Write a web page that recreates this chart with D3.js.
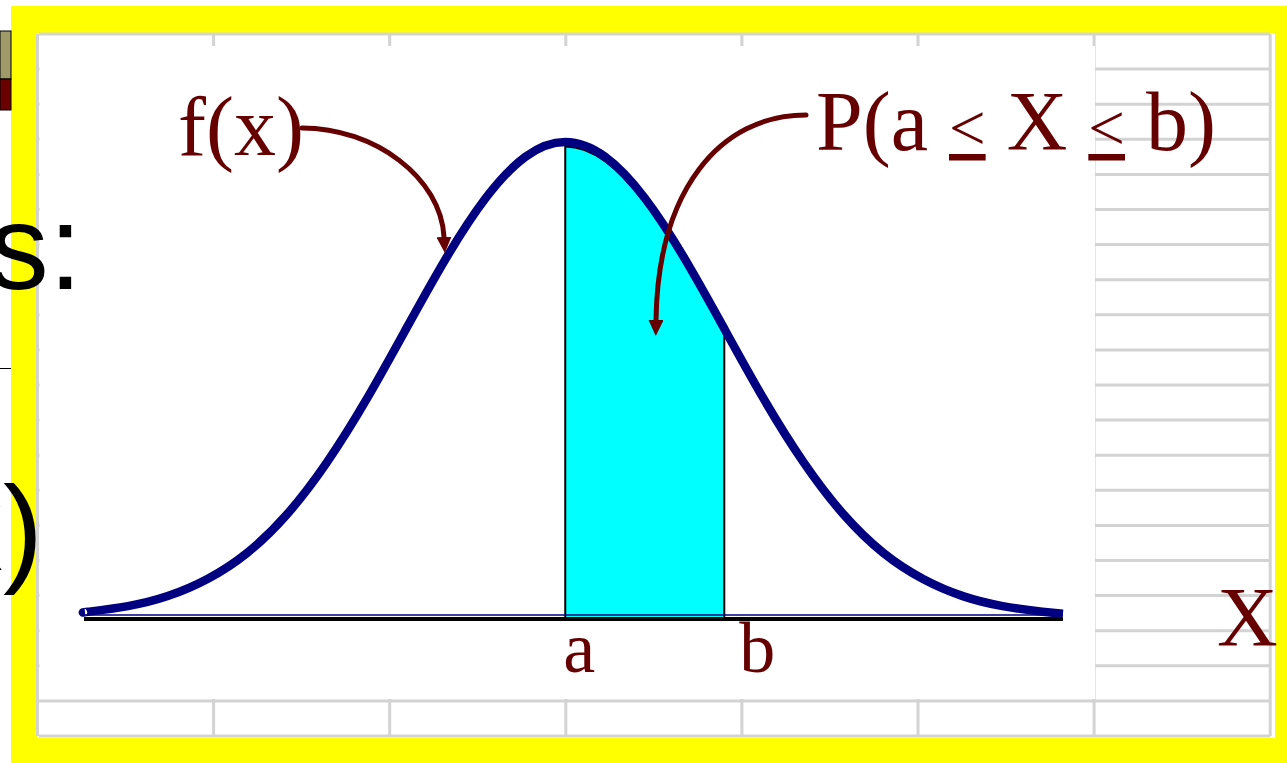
<!DOCTYPE html>
<html>
<head>
<meta charset="utf-8">
<script src="https://cdn.jsdelivr.net/npm/d3@7"></script>
<style>
  html, body { margin: 0; padding: 0; background: #fff; }
  svg { display: block; }
</style>
</head>
<body>
<div id="chart"></div>
<script>
// bell curve: z position and height relative to the peak
const zValues = [-3.02, -3, -2.75, -2.5, -2.25, -2, -1.75, -1.5, -1.25, -1, -0.75, -0.5, -0.25, 0,
  0.25, 0.5, 0.75, 1, 1.25, 1.5, 1.75, 2, 2.25, 2.5, 2.75, 3, 3.13]
const heights = [0.010, 0.011, 0.023, 0.044, 0.080, 0.135, 0.216, 0.325, 0.458, 0.607, 0.755, 0.882, 0.969, 1,
  0.969, 0.882, 0.755, 0.607, 0.458, 0.325, 0.216, 0.135, 0.080, 0.044, 0.023, 0.011, 0.007]
const boundNames = ['a', 'b']
const boundValues = [0, 1]
const curveLabel = 'f(x)'
const axisLabel = 'X'
const probParts = ['P(a ', '<', ' X ', '<', ' b)']

const width = 1287
const height = 763
const red = '#660000'
const navy = '#000080'
const gridColor = '#d3d3d3'

const svg = d3.select('#chart')
  .append('svg')
  .attr('width', width)
  .attr('height', height)

const points = zValues.map((z, i) => ({ z: z, h: heights[i] }))

const xPositionScale = d3.scaleLinear()
  .domain(d3.extent(zValues))
  .range([85, 1063])

const yPositionScale = d3.scaleLinear()
  .domain([0, 1])
  .range([617, 142])

// yellow frame + spreadsheet grid behind the chart
svg.append('rect').attr('x', 11).attr('y', 6).attr('width', 1276).attr('height', 757).attr('fill', '#ffff00')
svg.append('rect').attr('x', 37).attr('y', 33).attr('width', 1238).attr('height', 705).attr('fill', '#fff')

const colX = d3.range(8).map(k => 37.5 + 176.1 * k)
const rowY = d3.range(21).map(k => 34 + 35.1 * k)

svg.selectAll('.h-grid')
  .data(rowY)
  .enter()
  .append('line')
  .attr('class', 'h-grid')
  .attr('x1', 39).attr('x2', 1270)
  .attr('y1', d => d).attr('y2', d => d)
  .attr('stroke', gridColor)
  .attr('stroke-width', 3)

svg.selectAll('.v-grid')
  .data(colX)
  .enter()
  .append('line')
  .attr('class', 'v-grid')
  .attr('x1', d => d).attr('x2', d => d)
  .attr('y1', 34).attr('y2', 736)
  .attr('stroke', gridColor)
  .attr('stroke-width', 3)

// plot area covers the grid
svg.append('rect').attr('x', 39.5).attr('y', 46).attr('width', 1055.5).attr('height', 653).attr('fill', '#fff')

// bits of the slide peeking out on the left
svg.append('rect').attr('x', 0).attr('y', 31).attr('width', 11).attr('height', 48)
  .attr('fill', '#9f9a68').attr('stroke', '#000').attr('stroke-width', 1)
svg.append('rect').attr('x', 0).attr('y', 79).attr('width', 11).attr('height', 31)
  .attr('fill', '#6b0000').attr('stroke', '#000').attr('stroke-width', 1)
svg.append('line').attr('x1', 0).attr('x2', 11).attr('y1', 368.5).attr('y2', 368.5)
  .attr('stroke', '#000').attr('stroke-width', 1)
svg.append('text').text('s:')
  .attr('x', 82).attr('y', 289)
  .attr('text-anchor', 'end')
  .attr('font-family', '"Liberation Sans", Arial, sans-serif')
  .attr('font-size', '120px')
  .attr('fill', '#000')
svg.append('text').text('x)')
  .attr('x', 43).attr('y', 570)
  .attr('text-anchor', 'end')
  .attr('font-family', '"Liberation Sans", Arial, sans-serif')
  .attr('font-size', '120px')
  .attr('fill', '#000')

const line = d3.line()
  .x(d => xPositionScale(d.z))
  .y(d => yPositionScale(d.h))
  .curve(d3.curveNatural)

const area = d3.area()
  .x(d => xPositionScale(d.z))
  .y0(yPositionScale(0))
  .y1(d => yPositionScale(d.h))
  .curve(d3.curveNatural)

const defs = svg.append('defs')
defs.append('clipPath')
  .attr('id', 'between')
  .append('rect')
  .attr('x', xPositionScale(boundValues[0]))
  .attr('y', 0)
  .attr('width', xPositionScale(boundValues[1]) - xPositionScale(boundValues[0]))
  .attr('height', height)

defs.append('marker')
  .attr('id', 'head')
  .attr('viewBox', '0 0 16 15')
  .attr('refX', 0)
  .attr('refY', 7.5)
  .attr('markerUnits', 'userSpaceOnUse')
  .attr('markerWidth', 16)
  .attr('markerHeight', 15)
  .attr('orient', 'auto')
  .append('path')
  .attr('d', 'M0,0 L16,7.5 L0,15 Z')
  .attr('fill', red)

// shaded probability
svg.append('path')
  .datum(points)
  .attr('d', area)
  .attr('clip-path', 'url(#between)')
  .attr('fill', '#00ffff')

svg.append('path')
  .datum(points)
  .attr('d', line)
  .attr('clip-path', 'url(#between)')
  .attr('transform', 'translate(0,4.5)')
  .attr('fill', 'none')
  .attr('stroke', '#000')
  .attr('stroke-width', 2)

svg.selectAll('.bound')
  .data(boundValues)
  .enter()
  .append('line')
  .attr('class', 'bound')
  .attr('x1', d => xPositionScale(d)).attr('x2', d => xPositionScale(d))
  .attr('y1', yPositionScale(0))
  .attr('y2', d => yPositionScale(heights[zValues.indexOf(d)]) - (d === 0 ? 3 : -3))
  .attr('stroke', '#000')
  .attr('stroke-width', 2)

// curve
svg.append('path')
  .datum(points)
  .attr('d', line)
  .attr('fill', 'none')
  .attr('stroke', navy)
  .attr('stroke-width', 8.5)

// axis line
svg.append('line')
  .attr('x1', xPositionScale.range()[0]).attr('x2', xPositionScale.range()[1])
  .attr('y1', 615).attr('y2', 615)
  .attr('stroke', navy).attr('stroke-width', 1.5)
svg.append('line')
  .attr('x1', xPositionScale.range()[0] - 1).attr('x2', xPositionScale.range()[1])
  .attr('y1', 619).attr('y2', 619)
  .attr('stroke', '#000').attr('stroke-width', 4)

const serif = '"Liberation Serif", "Times New Roman", serif'
const boundDx = [-2, 15]

svg.selectAll('.bound-label')
  .data(boundNames)
  .enter()
  .append('text')
  .attr('class', 'bound-label')
  .text(d => d)
  .attr('x', (d, i) => xPositionScale(boundValues[i]) + boundDx[i])
  .attr('y', 672)
  .attr('font-family', serif)
  .attr('font-size', '72px')
  .attr('fill', red)

svg.append('text').text(curveLabel)
  .attr('x', 178).attr('y', 155)
  .attr('font-family', serif)
  .attr('font-size', '84px')
  .attr('fill', red)

svg.append('text').text(axisLabel)
  .attr('x', 1217).attr('y', 646)
  .attr('font-family', serif)
  .attr('font-size', '84px')
  .attr('fill', red)

const prob = svg.append('text')
  .attr('x', 816).attr('y', 150)
  .attr('xml:space', 'preserve')
  .style('white-space', 'pre')
  .attr('font-family', serif)
  .attr('font-size', '84px')
  .attr('fill', red)

prob.selectAll('tspan')
  .data(probParts)
  .enter()
  .append('tspan')
  .text(d => d)
  .attr('font-size', d => d === '<' ? '65px' : '84px')
  .style('text-decoration', d => d === '<' ? 'underline' : 'none')

// pointer arrows
const arrows = [
  'M302,128 C375,128 441,178 444,237',
  'M806,115 C720,115 658,190 656,320'
]
svg.selectAll('.pointer')
  .data(arrows)
  .enter()
  .append('path')
  .attr('class', 'pointer')
  .attr('d', d => d)
  .attr('fill', 'none')
  .attr('stroke', red)
  .attr('stroke-width', 5)
  .attr('stroke-linecap', 'round')
  .attr('marker-end', 'url(#head)')
</script>
</body>
</html>
